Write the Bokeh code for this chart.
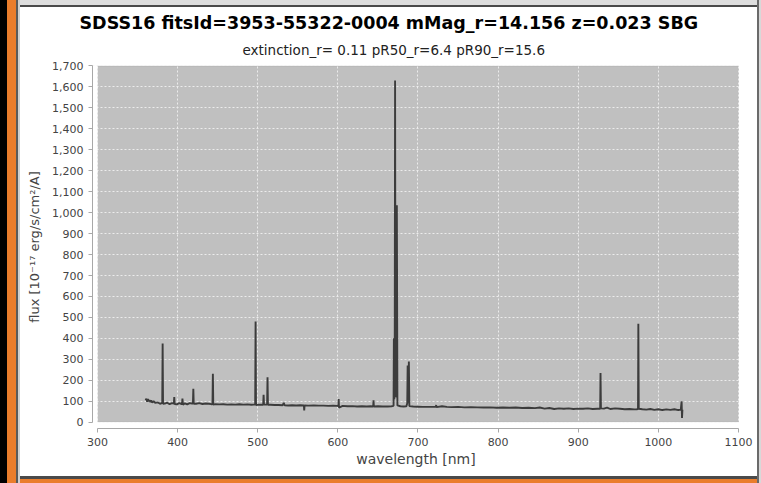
from bokeh.plotting import figure
from bokeh.models import (Range1d, FixedTicker, NumeralTickFormatter, BoxAnnotation,
                          Title, ColumnDataSource)
from bokeh.embed import file_html
from bokeh.resources import INLINE

# ---------------- data ----------------
title_text = "SDSS16 fitsId=3953-55322-0004 mMag_r=14.156 z=0.023 SBG"
subtitle_text = "extinction_r= 0.11 pR50_r=6.4 pR90_r=15.6"
x_label = "wavelength [nm]"
y_label = "flux [10\u207b\u00b9\u2077 erg/s/cm\u00b2/A]"

x_ticks = [300, 400, 500, 600, 700, 800, 900, 1000, 1100]
y_ticks = [0, 100, 200, 300, 400, 500, 600, 700, 800, 900, 1000,
           1100, 1200, 1300, 1400, 1500, 1600, 1700]

wavelength = [
    360, 361, 362, 363, 364, 365, 366, 367, 368, 370, 372, 375, 378, 380,
    380.8, 381.3, 381.8, 384, 387, 390, 393,
    395.3, 395.8, 396.3, 399, 402, 405,
    405.5, 406.0, 406.6, 409, 412, 415, 418,
    419.1, 419.6, 420.1, 423, 427, 431, 435, 439, 442,
    443.5, 444.0, 444.5, 447, 452, 457, 462, 467, 472, 477, 482, 487, 492, 495,
    496.8, 497.3, 497.8, 501, 504,
    506.8, 507.3, 507.8, 510,
    511.7, 512.2, 512.7, 516, 521, 526, 531, 532.5, 533.5, 538, 543, 548, 553,
    557.6, 558.0, 558.4, 563, 570, 576, 582, 588, 594, 599,
    600.6, 601.0, 601.4, 606, 612, 618, 624, 630, 636, 641,
    644.1, 644.5, 644.9, 650, 656, 662, 667,
    669.5, 669.9, 670.4, 670.9, 671.4, 671.9, 672.9, 673.6, 674.3, 678, 682, 685.5,
    686.6, 687.1, 687.6, 688.1, 688.6, 689.2, 694, 700, 706,
    722.3, 722.7, 723.1, 730, 736, 742, 750, 758, 766, 774, 782, 790, 798, 806,
    814, 822, 830, 838, 846, 852, 858, 864, 870, 876, 882, 888, 894, 900, 906,
    912, 918, 924,
    927.4, 927.8, 928.3, 932, 936, 940, 946, 952, 958, 964, 970, 973,
    974.6, 975.0, 975.5, 980, 985, 990, 995, 1000, 1005, 1010, 1015, 1020, 1025,
    1028, 1029, 1029.5, 1030,
]
flux = [
    105, 112, 98, 110, 100, 106, 96, 104, 94, 100, 92, 95, 88, 91,
    90, 375, 88, 89, 93, 86, 91,
    89, 120, 87, 85, 91, 87,
    86, 113, 84, 90, 85, 91, 89,
    89, 160, 88, 88, 91, 87, 89, 88, 86,
    86, 231, 84, 86, 85, 86, 84, 85, 84, 86, 84, 85, 83, 84,
    84, 480, 82, 84, 83,
    83, 131, 84, 84,
    84, 215, 83, 83, 82, 82, 81, 92, 81, 80, 81, 80, 81,
    80, 56, 80, 79, 80, 79, 79, 78, 79, 78,
    77, 110, 70, 78, 76, 77, 75, 76, 75, 76,
    75, 104, 75, 76, 75, 75, 76,
    78, 400, 110, 150, 1630, 120, 130, 1035, 80, 76, 75, 76,
    90, 270, 95, 100, 290, 77, 75, 74, 73,
    73, 82, 72, 76, 73, 72, 73, 71, 72, 71, 70, 71, 69, 70,
    69, 70, 68, 69, 67, 70, 65, 68, 63, 66, 64, 66, 63, 65, 64,
    66, 63, 64,
    64, 235, 66, 65, 70, 63, 66, 64, 62, 63, 61, 62,
    63, 470, 64, 62, 60, 63, 59, 62, 58, 61, 59, 62, 58,
    60, 100, 20, 60,
]

# ---------------- figure ----------------
FRAME_LEFT, FRAME_BOTTOM = 92, 428

p = figure(width=761, height=483, output_backend="svg", toolbar_location=None,
           x_range=Range1d(293.76, 1101.25), y_range=Range1d(-30, 1702),
           min_border_left=FRAME_LEFT, min_border_right=22, min_border_top=65,
           min_border_bottom=483 - FRAME_BOTTOM)
p.background_fill_color = "white"
p.border_fill_color = "white"
p.border_fill_alpha = 0.0
p.outline_line_color = None

# window chrome behind the (transparent) canvas border
p.styles = {
    "background": (
        "linear-gradient(to right, #000000 0px, #000000 7px, #ea7d2c 7px, #ea7d2c 16px, "
        "#5a5a5a 16px, #5a5a5a 18px, #cfcfcf 18px, #cfcfcf 20px, transparent 20px, "
        "transparent 757px, #6a6a6a 757px, #6a6a6a 759px, #d8d8d8 759px), "
        "linear-gradient(to bottom, #dedede 0px, #dedede 5px, #4a4a4a 5px, #4a4a4a 7px, "
        "#ffffff 7px, #ffffff 476px, #4a4a4a 476px, #4a4a4a 479px, #ea7d2c 479px)"
    )
}

# titles: subtitle first (closest to the plot), then the main title above it
p.title = None
p.add_layout(Title(text=subtitle_text, align="left", offset=150, standoff=15,
                   text_font="DejaVu Sans", text_font_style="normal",
                   text_font_size="13.5px", text_color="#222222"), "above")
p.add_layout(Title(text=title_text, align="left", offset=-13, standoff=0,
                   text_font="DejaVu Sans", text_font_style="bold",
                   text_font_size="17.5px", text_color="black"), "above")

# plot area background (JFreeChart style with axis offset)
p.add_layout(BoxAnnotation(left=x_ticks[0], right=x_ticks[-1], bottom=y_ticks[0], top=y_ticks[-1],
                           fill_color="#c0c0c0", fill_alpha=1.0,
                           line_color="#8c8c8c", line_width=1, level="image"))

for g in (p.xgrid, p.ygrid):
    g.grid_line_color = "#ececec"
    g.grid_line_dash = "2 2"
    g.grid_line_width = 1
    g.level = "underlay"
p.xgrid.ticker = FixedTicker(ticks=x_ticks)
p.ygrid.ticker = FixedTicker(ticks=y_ticks)

# hide grid lines in the offset strips
p.add_layout(BoxAnnotation(right=x_ticks[0], fill_color="white", fill_alpha=1.0,
                           line_color=None, level="underlay"))
p.add_layout(BoxAnnotation(top=y_ticks[0], fill_color="white", fill_alpha=1.0,
                           line_color=None, level="underlay"))

src = ColumnDataSource(dict(x=wavelength, y=flux))
p.line("x", "y", source=src, line_color="#3c3c3c", line_width=1.9)

# axes
p.xaxis.ticker = FixedTicker(ticks=x_ticks)
p.yaxis.ticker = FixedTicker(ticks=y_ticks)
p.yaxis.formatter = NumeralTickFormatter(format="0,0")
p.xaxis.bounds = (x_ticks[0], x_ticks[-1])
p.yaxis.bounds = (y_ticks[0], y_ticks[-1])
for ax in (p.xaxis, p.yaxis):
    ax.axis_line_color = "#a8a8a8"
    ax.major_tick_line_color = "#a8a8a8"
    ax.major_tick_out = 4
    ax.major_tick_in = 0
    ax.minor_tick_line_color = None
    ax.major_label_text_font = "DejaVu Sans"
    ax.major_label_text_font_size = "11px"
    ax.major_label_text_color = "#444444"
    ax.axis_label_text_font = "DejaVu Sans"
    ax.axis_label_text_font_style = "normal"
    ax.axis_label_text_color = "#444444"
p.xaxis.axis_label = x_label
p.yaxis.axis_label = y_label
p.xaxis.axis_label_text_font_size = "14px"
p.yaxis.axis_label_text_font_size = "13px"
p.xaxis.major_label_standoff = 5
p.yaxis.major_label_standoff = 5
p.xaxis.axis_label_standoff = 2
p.yaxis.axis_label_standoff = 7

open("out.html", "w").write(file_html(p, INLINE))
